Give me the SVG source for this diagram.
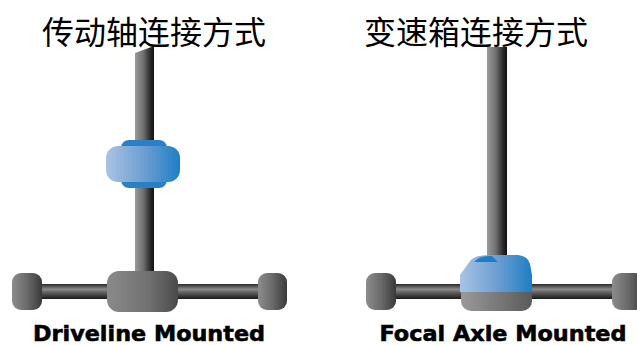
<svg xmlns="http://www.w3.org/2000/svg" width="637" height="345" viewBox="0 0 637 345">
  <defs>
    <!-- metal shading for vertical shafts (light left, dark right) -->
    <linearGradient id="shaftV" x1="0" y1="0" x2="1" y2="0">
      <stop offset="0" stop-color="#9a9a9a"/>
      <stop offset="0.45" stop-color="#6e6e6e"/>
      <stop offset="0.8" stop-color="#2a2a2a"/>
      <stop offset="1" stop-color="#111"/>
    </linearGradient>
    <!-- metal shading for horizontal axles -->
    <linearGradient id="shaftH" x1="0" y1="0" x2="0" y2="1">
      <stop offset="0" stop-color="#2a2a2a"/>
      <stop offset="0.35" stop-color="#8a8a8a"/>
      <stop offset="0.6" stop-color="#5a5a5a"/>
      <stop offset="1" stop-color="#1a1a1a"/>
    </linearGradient>
    <!-- end caps and hub -->
    <linearGradient id="cap" x1="0" y1="0" x2="1" y2="0">
      <stop offset="0" stop-color="#8c8c8c"/>
      <stop offset="0.5" stop-color="#6a6a6a"/>
      <stop offset="1" stop-color="#3a3a3a"/>
    </linearGradient>
    <linearGradient id="hub" x1="0" y1="0" x2="1" y2="0">
      <stop offset="0" stop-color="#8a8a8a"/>
      <stop offset="0.6" stop-color="#707070"/>
      <stop offset="1" stop-color="#4a4a4a"/>
    </linearGradient>
    <!-- blue coupling body -->
    <linearGradient id="blue" x1="0" y1="0" x2="1" y2="0">
      <stop offset="0" stop-color="#a9c3e3"/>
      <stop offset="0.5" stop-color="#6f9fd3"/>
      <stop offset="1" stop-color="#1c7fc4"/>
    </linearGradient>
    <linearGradient id="grayBase" x1="0" y1="0" x2="1" y2="0">
      <stop offset="0" stop-color="#9a9a9a"/>
      <stop offset="1" stop-color="#5a5a5a"/>
    </linearGradient>
  </defs>
  <style>
    .title { font-family: "Noto Sans CJK SC", sans-serif; font-size: 32px; fill: #000; text-anchor: middle; }
    .label { font-family: "DejaVu Sans", "Verdana", sans-serif; font-weight: 900; font-size: 22px; fill: #000; text-anchor: middle; stroke: #000; stroke-width: 0.6; }
  </style>

  <rect width="637" height="345" fill="#fff"/>

  <!-- Driveline mounted -->
  <g id="driveline">
    <text class="title" x="154" y="44">传动轴连接方式</text>
    <!-- vertical drive shaft with angled top -->
    <path d="M135,53 L154,46 L154,275 L135,275 Z" fill="url(#shaftV)"/>
    <!-- axle -->
    <rect x="30" y="284" width="240" height="15" fill="url(#shaftH)"/>
    <rect x="12" y="273" width="30" height="37" rx="9" fill="url(#cap)"/>
    <rect x="258" y="273" width="29" height="37" rx="9" fill="url(#cap)"/>
    <rect x="107" y="271" width="71" height="41" rx="12" fill="url(#hub)"/>
    <!-- blue coupling on the shaft -->
    <rect x="121" y="140" width="46" height="48" rx="8" fill="#2a7fc6"/>
    <rect x="106" y="146" width="74" height="36" rx="12" fill="url(#blue)"/>
    <text class="label" x="149" y="341" textLength="232" lengthAdjust="spacingAndGlyphs">Driveline Mounted</text>
  </g>

  <!-- Focal axle mounted -->
  <g id="focal-axle">
    <text class="title" x="476" y="44">变速箱连接方式</text>
    <path d="M487,47 L507,47 L507,262 L487,262 Z" fill="url(#shaftV)"/>
    <rect x="380" y="284" width="257" height="15" fill="url(#shaftH)"/>
    <rect x="366" y="273" width="30" height="37" rx="9" fill="url(#cap)"/>
    <rect x="612" y="273" width="32" height="37" rx="9" fill="url(#cap)"/>
    <!-- gearbox housing: gray base, blue upper body -->
    <rect x="461" y="278" width="71" height="33" rx="10" fill="url(#grayBase)"/>
    <path d="M470,261 Q474,255 490,255 L518,255 Q528,256 530,264 L532,275 L532,292 L460,292 L460,275 Z" fill="url(#blue)"/>
    <path d="M474,262 Q480,255 492,256 L498,262 Z" fill="#1c7fc4"/>
    <text class="label" x="503" y="341" textLength="247" lengthAdjust="spacingAndGlyphs">Focal Axle Mounted</text>
  </g>
</svg>
